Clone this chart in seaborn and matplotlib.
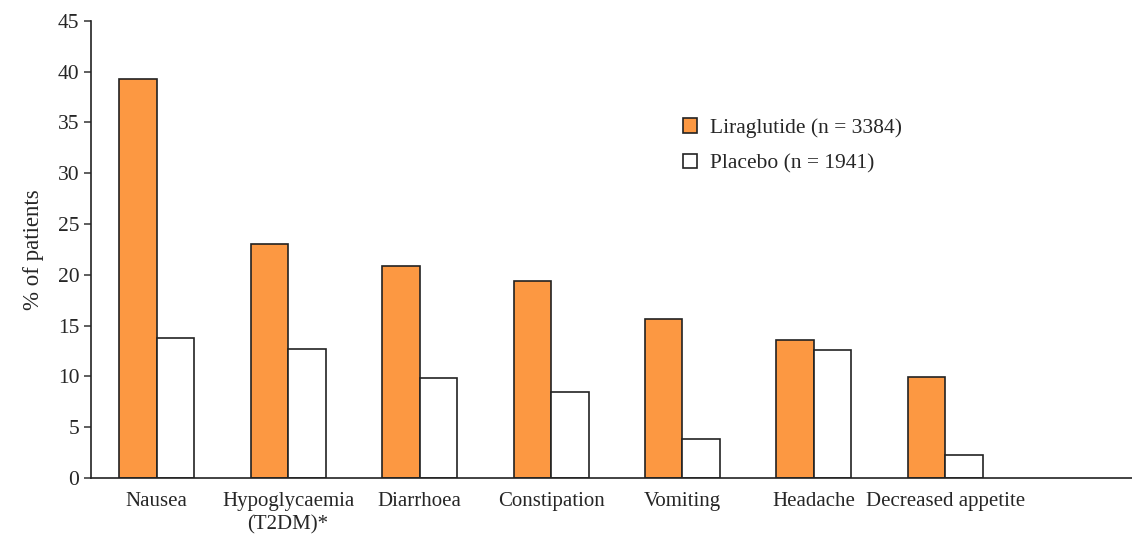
import pandas as pd
import matplotlib.pyplot as plt
import seaborn as sns

# Values
categories = ['Nausea', 'Hypoglycaemia\n(T2DM)*', 'Diarrhoea', 'Constipation',
              'Vomiting', 'Headache', 'Decreased appetite']
liraglutide = [39.3, 23.0, 20.9, 19.4, 15.7, 13.6, 9.9]
placebo = [13.8, 12.7, 9.8, 8.5, 3.8, 12.6, 2.3]
groups = ['Liraglutide (n = 3384)', 'Placebo (n = 1941)']
colors = ['#FC9842', '#FFFFFF']

df = pd.DataFrame({
    'event': categories * 2,
    'pct': liraglutide + placebo,
    'group': [groups[0]] * len(categories) + [groups[1]] * len(categories),
})

sns.set_style('ticks')
plt.rcParams['font.family'] = ['Liberation Serif', 'DejaVu Serif']

fig = plt.figure(figsize=(11.32, 5.35), dpi=100)
ax = fig.add_axes([0.0804, 0.1065, 0.9196, 0.8545])

sns.barplot(data=df, x='event', y='pct', hue='group', palette=colors,
            width=0.57, edgecolor='#222222', linewidth=1.2, saturation=1,
            ax=ax)

ax.set_xlim(-0.5, 7.42)
ax.set_ylim(0, 45)
ax.set_yticks(range(0, 46, 5))
ax.tick_params(axis='y', labelsize=15.5, length=5, width=1.1, color='#333333')
ax.tick_params(axis='x', labelsize=15, length=0, pad=10)
for lbl in ax.get_xticklabels():
    lbl.set_linespacing(1.3)
ax.set_xlabel('')
ax.set_ylabel('% of patients', fontsize=16.5, labelpad=10)
sns.despine(ax=ax)
for s in ['left', 'bottom']:
    ax.spines[s].set_linewidth(1.2)
    ax.spines[s].set_color('#222222')

handles, labels = ax.get_legend_handles_labels()
ax.legend(handles, labels, frameon=False, fontsize=15.5, loc='upper left',
          bbox_to_anchor=(0.586, 0.815), bbox_transform=fig.transFigure,
          handlelength=0.65, handleheight=0.65, handletextpad=0.6,
          labelspacing=0.72)

fig.savefig('out.png', dpi=100)
